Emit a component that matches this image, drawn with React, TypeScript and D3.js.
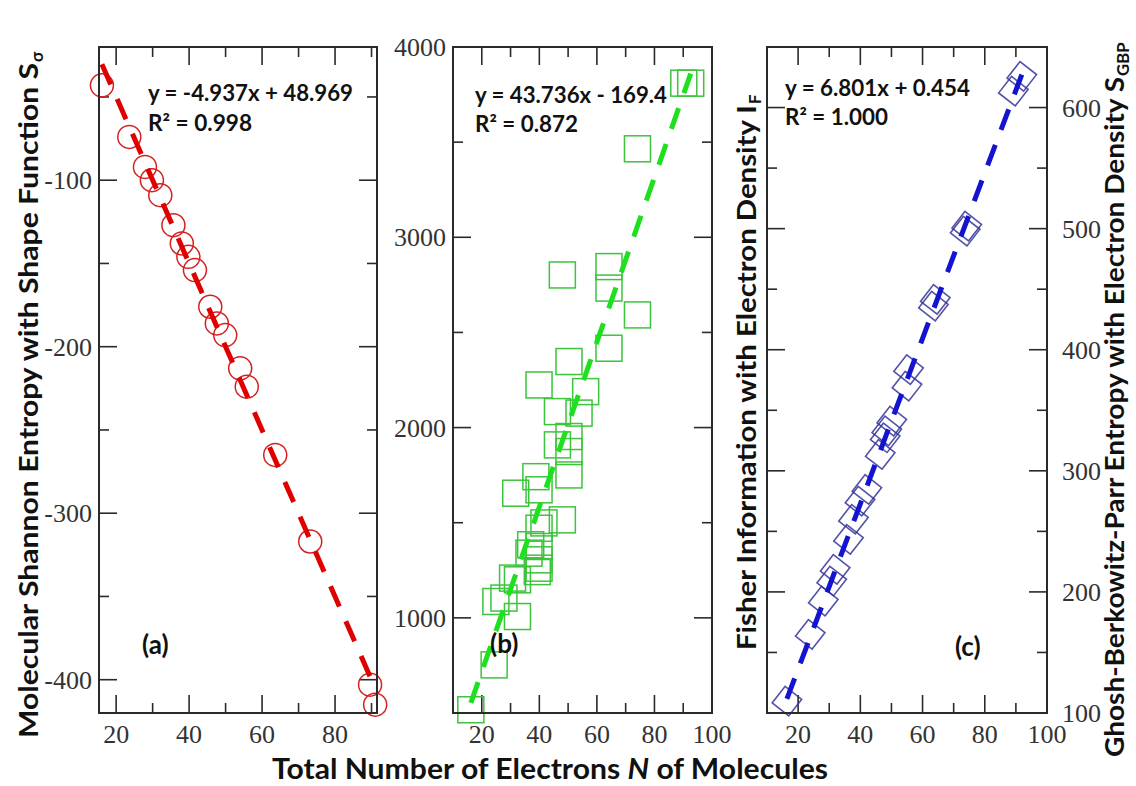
import React from 'react';
import * as d3 from 'd3';

const W = 1136;
const H = 786;

// ---------- data ----------
// Panel (a): Molecular Shannon entropy with shape function vs N
const aN = [16.1, 23.6, 27.9, 29.8, 32.1, 35.7, 38.0, 39.8, 41.6, 45.8, 47.6, 49.9, 54.0, 55.8, 63.6, 73.2, 89.6, 91.0];
const aS = [-43, -74, -92, -100, -109, -127, -138, -146, -154, -176, -186, -193, -213, -224, -265, -317, -403, -415];

// Panel (b): Fisher information vs N
const bN = [90.2, 92.6, 74.1, 48.0, 64.2, 64.2, 74.1, 64.2, 50.3, 39.9, 56.1, 46.3, 53.8, 46.3, 50.3, 50.3, 38.8, 50.3, 31.8, 39.9, 48.0, 39.9, 41.6, 37.0, 39.9, 36.4, 39.9, 30.7, 39.3, 32.4, 39.9, 24.9, 27.7, 32.4, 24.3, 16.2];
const bI = [3810, 3810, 3465, 2802, 2846, 2733, 2592, 2417, 2347, 2224, 2189, 2084, 2076, 1909, 1953, 1874, 1742, 1751, 1655, 1673, 1515, 1471, 1499, 1384, 1375, 1340, 1305, 1209, 1243, 1200, 1261, 1086, 1104, 1007, 753, 517];

// Panel (c): Ghosh-Berkowitz-Parr entropy vs N
const cN = [91.9, 89.2, 74.2, 73.7, 64.1, 63.5, 55.5, 55.0, 50.1, 48.5, 48.0, 46.4, 42.1, 39.9, 37.8, 36.2, 31.9, 30.8, 28.1, 23.9, 16.4];
const cS = [625.8, 613.5, 502, 498, 441.5, 436, 383.6, 370, 341, 333, 327.3, 313.5, 284.6, 275, 260, 243.4, 218.6, 209, 192.4, 164.9, 109.8];

// ticks
const xMajor = [20, 40, 60, 80, 100];
const xMinor = [30, 50, 70, 90];
const aYMajor = [-100, -200, -300, -400];
const aYMinor = [-50, -150, -250, -350];
const bYMajor = [1000, 2000, 3000, 4000];
const bYMinor = [1500, 2500, 3500];
const cYMajor = [100, 200, 300, 400, 500, 600];
const cYMinor = [150, 250, 350, 450, 550];

// texts
const eqA = ['y = -4.937x + 48.969', 'R² = 0.998'];
const eqB = ['y = 43.736x - 169.4', 'R² = 0.872'];
const eqC = ['y = 6.801x + 0.454', 'R² = 1.000'];
const xTitle = 'Total Number of Electrons ';
const xTitleN = 'N';
const xTitleEnd = ' of Molecules';
const yTitleA = ['Molecular Shannon Entropy with Shape Function S', 'σ'];
const yTitleB = ['Fisher Information with Electron Density I', 'F'];
const yTitleC = ['Ghosh-Berkowitz-Parr Entropy with Electron Density S', 'GBP'];

const SERIF = "'Liberation Serif', 'DejaVu Serif', serif";
const SANS = "Lato, 'Open Sans', 'Noto Sans', sans-serif";
const AXIS = '#2a2a2a';
const TICK_FS = 26;

function linFit(xs: number[], ys: number[]) {
  const mx = d3.mean(xs) as number;
  const my = d3.mean(ys) as number;
  let sxy = 0;
  let sxx = 0;
  xs.forEach((xv, i) => {
    sxy += (xv - mx) * (ys[i] - my);
    sxx += (xv - mx) * (xv - mx);
  });
  const m = sxy / sxx;
  return { m, b: my - m * mx };
}

type PanelSpec = {
  key: string;
  left: number; right: number; top: number; bottom: number;
  xDomain: [number, number]; yDomain: [number, number];
  xs: number[]; ys: number[];
  yMajor: number[]; yMinor: number[];
  labelSide: 'left' | 'right';
  marker: 'circle' | 'square' | 'diamond';
  markerColor: string; lineColor: string;
  eq: string[]; eqX: number; eqY: number[]; eqLen: number[];
  tag: string; tagX: number; tagY: number;
};

const panels: PanelSpec[] = [
  {
    key: 'a', left: 99, right: 377, top: 47, bottom: 713,
    xDomain: [15.3, 91.5], yDomain: [-420, -20], xs: aN, ys: aS,
    yMajor: aYMajor, yMinor: aYMinor, labelSide: 'left',
    marker: 'circle', markerColor: '#d42020', lineColor: '#e00000',
    eq: eqA, eqX: 148, eqY: [101, 131], eqLen: [205, 104],
    tag: '(a)', tagX: 142, tagY: 654,
  },
  {
    key: 'b', left: 453, right: 712, top: 47, bottom: 713,
    xDomain: [10, 100], yDomain: [500, 4000], xs: bN, ys: bI,
    yMajor: bYMajor, yMinor: bYMinor, labelSide: 'left',
    marker: 'square', markerColor: '#3cc43c', lineColor: '#1ee01e',
    eq: eqB, eqX: 475, eqY: [103, 132], eqLen: [192, 103],
    tag: '(b)', tagX: 490, tagY: 653,
  },
  {
    key: 'c', left: 767, right: 1047, top: 47, bottom: 713,
    xDomain: [10, 100], yDomain: [100, 650], xs: cN, ys: cS,
    yMajor: cYMajor, yMinor: cYMinor, labelSide: 'right',
    marker: 'diamond', markerColor: '#34349a', lineColor: '#1414d0',
    eq: eqC, eqX: 785, eqY: [96, 125], eqLen: [185, 103],
    tag: '(c)', tagX: 955, tagY: 656,
  },
];

const MAJ = 18;
const MIN = 10;

function Panel({ p }: { p: PanelSpec }) {
  const x = d3.scaleLinear().domain(p.xDomain).range([p.left, p.right]);
  const y = d3.scaleLinear().domain(p.yDomain).range([p.bottom, p.top]);
  const inX = (v: number) => v >= p.xDomain[0] - 1e-9 && v <= p.xDomain[1] + 1e-9;
  const inY = (v: number) => v >= p.yDomain[0] - 1e-9 && v <= p.yDomain[1] + 1e-9;
  const fit = linFit(p.xs, p.ys);
  const [x0, x1] = d3.extent(p.xs) as [number, number];
  const fitPath = d3.line()([
    [x(x0), y(fit.m * x0 + fit.b)],
    [x(x1), y(fit.m * x1 + fit.b)],
  ]) as string;

  const xMaj = xMajor.filter(inX);
  const xMin = xMinor.filter(inX);
  const yMaj = p.yMajor.filter(inY);
  const yMin = p.yMinor.filter(inY);

  const markers = p.xs.map((nv, i) => {
    const cx = x(nv);
    const cy = y(p.ys[i]);
    if (p.marker === 'circle') {
      return <circle key={i} cx={cx} cy={cy} r={11.5} fill="none" stroke={p.markerColor} strokeWidth={1.5} />;
    }
    if (p.marker === 'square') {
      return <rect key={i} x={cx - 13} y={cy - 13} width={26} height={26} fill="none" stroke={p.markerColor} strokeWidth={1.5} />;
    }
    return (
      <rect key={i} x={-10.5} y={-10.5} width={21} height={21} fill="none" stroke={p.markerColor}
        strokeWidth={1.6} strokeOpacity={0.85} transform={`translate(${cx},${cy}) rotate(38)`} />
    );
  });

  return (
    <g>
      {xMaj.map((v) => (
        <g key={'xM' + v}>
          <line x1={x(v)} x2={x(v)} y1={p.bottom} y2={p.bottom - MAJ} stroke={AXIS} strokeWidth={1.6} />
          <line x1={x(v)} x2={x(v)} y1={p.top} y2={p.top + MAJ} stroke={AXIS} strokeWidth={1.6} />
          <text x={x(v)} y={743} textAnchor="middle" fontFamily={SERIF} fontSize={TICK_FS} fill="#333">{v}</text>
        </g>
      ))}
      {xMin.map((v) => (
        <g key={'xm' + v}>
          <line x1={x(v)} x2={x(v)} y1={p.bottom} y2={p.bottom - MIN} stroke={AXIS} strokeWidth={1.6} />
          <line x1={x(v)} x2={x(v)} y1={p.top} y2={p.top + MIN} stroke={AXIS} strokeWidth={1.6} />
        </g>
      ))}
      {yMaj.map((v) => (
        <g key={'yM' + v}>
          <line x1={p.left} x2={p.left + MAJ} y1={y(v)} y2={y(v)} stroke={AXIS} strokeWidth={1.6} />
          <line x1={p.right} x2={p.right - MAJ} y1={y(v)} y2={y(v)} stroke={AXIS} strokeWidth={1.6} />
          {p.labelSide === 'left' ? (
            <text x={p.left - 7} y={y(v)} dy="0.35em" textAnchor="end" fontFamily={SERIF} fontSize={TICK_FS} fill="#333">{v}</text>
          ) : (
            <text x={p.right + 15} y={y(v)} dy="0.35em" textAnchor="start" fontFamily={SERIF} fontSize={TICK_FS} fill="#333">{v}</text>
          )}
        </g>
      ))}
      {yMin.map((v) => (
        <g key={'ym' + v}>
          <line x1={p.left} x2={p.left + MIN} y1={y(v)} y2={y(v)} stroke={AXIS} strokeWidth={1.6} />
          <line x1={p.right} x2={p.right - MIN} y1={y(v)} y2={y(v)} stroke={AXIS} strokeWidth={1.6} />
        </g>
      ))}
      {markers}
      <path d={fitPath} fill="none" stroke={p.lineColor} strokeWidth={5} strokeDasharray="22 16" />
      <rect x={p.left} y={p.top} width={p.right - p.left} height={p.bottom - p.top} fill="none" stroke={AXIS} strokeWidth={2} />
      {p.eq.map((t, i) => (
        <text key={t} x={p.eqX} y={p.eqY[i]} fontFamily={SANS} fontWeight={700} fontSize={22} fill="#111"
          textLength={p.eqLen[i]} lengthAdjust="spacingAndGlyphs">{t}</text>
      ))}
      <text x={p.tagX} y={p.tagY} fontFamily={SANS} fontWeight={700} fontSize={26} fill="#111">{p.tag}</text>
    </g>
  );
}

function VTitle({ parts, bx, by, len, size }: { parts: string[]; bx: number; by: number; len: number; size: number }) {
  return (
    <g transform={`translate(${bx},${by}) rotate(-90)`}>
      <text x={0} y={0} fontFamily={SANS} fontWeight={700} fontSize={size} fill="#111"
        textLength={len} lengthAdjust="spacingAndGlyphs">{parts[0]}</text>
      <text x={len + 1} y={5} fontFamily={SANS} fontWeight={700} fontSize={size * 0.62} fill="#111">{parts[1]}</text>
    </g>
  );
}

export default function App() {
  return (
    <svg width={W} height={H} viewBox={`0 0 ${W} ${H}`}
      style={{ position: 'absolute', left: 0, top: 0, background: '#fff' }}>
      <rect x={0} y={0} width={W} height={H} fill="#fff" />
      {panels.map((p) => <Panel key={p.key} p={p} />)}
      <VTitle parts={yTitleA} bx={38} by={738} len={675} size={27} />
      <VTitle parts={yTitleB} bx={756} by={650} len={545} size={27} />
      <VTitle parts={yTitleC} bx={1124} by={757} len={680} size={27} />
      <text x={272} y={779} fontFamily={SANS} fontWeight={700} fontSize={28} fill="#111"
        textLength={556} lengthAdjust="spacingAndGlyphs">
        <tspan>{xTitle}</tspan>
        <tspan fontStyle="italic">{xTitleN}</tspan>
        <tspan>{xTitleEnd}</tspan>
      </text>
    </svg>
  );
}
